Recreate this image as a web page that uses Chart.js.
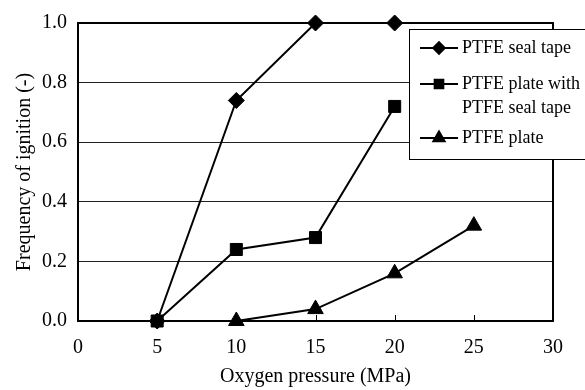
<!DOCTYPE html>
<html>
<head>
<meta charset="utf-8">
<script src="https://cdn.jsdelivr.net/npm/chart.js@4/dist/chart.umd.min.js"></script>
<style>
  html, body { margin: 0; padding: 0; background: #fff; }
  #wrap { width: 585px; height: 390px; position: relative; }
</style>
</head>
<body>
<div id="wrap"><canvas id="c"></canvas></div>
<script>
// data
const pressures = [5, 10, 15, 20, 25];
const sealTape = [0, 0.74, 1.0, 1.0, null];
const plateWithTape = [0, 0.24, 0.28, 0.72, null];
const plate = [null, 0, 0.04, 0.16, 0.32];
const seriesNames = ["PTFE seal tape", ["PTFE plate with", "PTFE seal tape"], "PTFE plate"];
const xTicks = [0, 5, 10, 15, 20, 25, 30];

const FONT = "'Liberation Serif', 'Times New Roman', serif";

function toPoints(vals) {
  return pressures.map((x, i) => ({ x, y: vals[i] })).filter(p => p.y !== null);
}

const styles = [
  { pointStyle: "rectRot", radius: 8 },
  { pointStyle: "rect", radius: 8.5 },
  { pointStyle: "triangle", radius: 9 }
];

const datasets = [sealTape, plateWithTape, plate].map((vals, i) => ({
  label: Array.isArray(seriesNames[i]) ? seriesNames[i].join(" ") : seriesNames[i],
  data: toPoints(vals),
  showLine: true,
  borderColor: "#000",
  backgroundColor: "#000",
  borderWidth: 2,
  pointStyle: styles[i].pointStyle,
  pointRadius: styles[i].radius,
  pointHoverRadius: styles[i].radius,
  pointBorderWidth: 1,
  clip: false
}));

// frame, inward x ticks and the boxed legend
const framePlugin = {
  id: "frame",
  afterDatasetsDraw(chart) {
    const { ctx, chartArea: a, scales } = chart;
    ctx.save();
    ctx.strokeStyle = "#000";
    ctx.lineWidth = 1;
    xTicks.slice(1, -1).forEach(v => {
      const px = Math.round(scales.x.getPixelForValue(v)) + 0.5;
      ctx.beginPath();
      ctx.moveTo(px, a.bottom);
      ctx.lineTo(px, a.bottom - 6);
      ctx.stroke();
    });
    ctx.lineWidth = 2;
    ctx.strokeRect(a.left, a.top, a.right - a.left, a.bottom - a.top);
    ctx.restore();
  },
  afterDraw(chart) {
    const { ctx } = chart;
    ctx.save();
    ctx.fillStyle = "#fff";
    ctx.fillRect(409.5, 29.5, 190, 130);
    ctx.strokeStyle = "#000";
    ctx.lineWidth = 1;
    ctx.strokeRect(409.5, 29.5, 190, 130);
    const rows = [48, 84, 138];
    ctx.font = "18px " + FONT;
    ctx.textBaseline = "middle";
    rows.forEach((y, i) => {
      ctx.strokeStyle = "#000";
      ctx.lineWidth = 2;
      ctx.beginPath();
      ctx.moveTo(420, y);
      ctx.lineTo(458, y);
      ctx.stroke();
      ctx.fillStyle = "#000";
      Chart.helpers.drawPoint(ctx, { pointStyle: styles[i].pointStyle, radius: styles[i].radius * 0.72, borderWidth: 1 }, 439, y);
      ctx.fill();
      ctx.fillStyle = "#000";
      const name = seriesNames[i];
      if (Array.isArray(name)) {
        name.forEach((t, k) => ctx.fillText(t, 462, y + k * 24));
      } else {
        ctx.fillText(name, 462, y);
      }
    });
    ctx.restore();
  }
};

new Chart(document.getElementById("c"), {
  type: "scatter",
  data: { datasets },
  plugins: [framePlugin],
  options: {
    responsive: true,
    maintainAspectRatio: false,
    animation: false,
    layout: { padding: { top: 20, right: 32, left: 0, bottom: 0 } },
    plugins: { legend: { display: false }, tooltip: { enabled: false } },
    scales: {
      x: {
        type: "linear",
        min: 0,
        max: 30,
        afterFit: s => { s.height = 69; },
        afterBuildTicks: s => { s.ticks = xTicks.map(v => ({ value: v })); },
        grid: { display: false },
        border: { display: false },
        ticks: { color: "#000", font: { family: FONT, size: 20 }, padding: 7, maxRotation: 0 },
        title: { display: true, text: "Oxygen pressure (MPa)", color: "#000", font: { family: FONT, size: 20 }, padding: { top: 4, bottom: 1 } }
      },
      y: {
        min: 0,
        max: 1.0,
        afterFit: s => { s.width = 78; },
        grid: { color: "#222", lineWidth: 1, drawTicks: false },
        border: { display: false },
        ticks: {
          stepSize: 0.2,
          color: "#000",
          font: { family: FONT, size: 20 },
          padding: 11,
          callback: v => v.toFixed(1)
        },
        title: { display: true, text: "Frequency of ignition (-)", color: "#000", font: { family: FONT, size: 20 }, padding: { top: 13, bottom: 4 } }
      }
    }
  }
});
</script>
</body>
</html>
